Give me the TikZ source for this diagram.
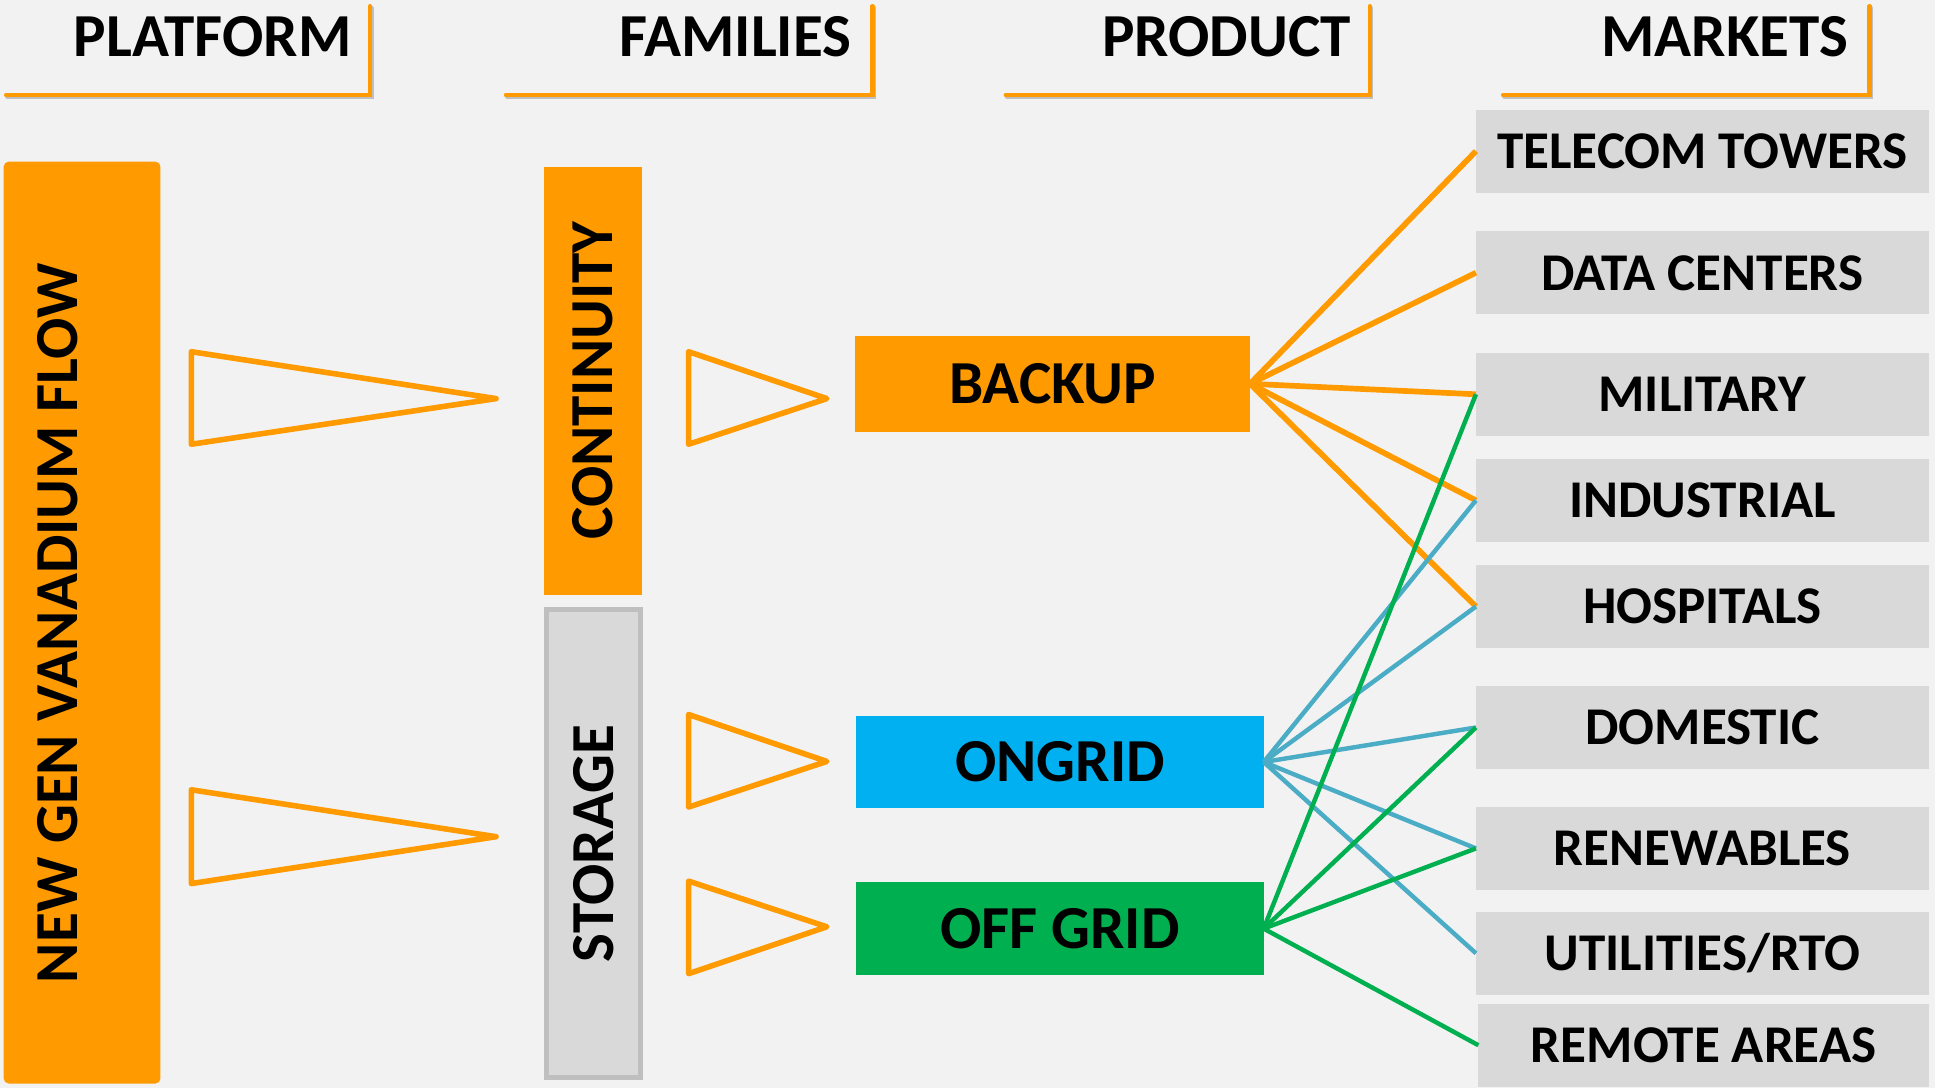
\documentclass[tikz,border=0pt]{standalone}
\usepackage{fontspec}
\setmainfont{Carlito}
\definecolor{orC}{HTML}{FF9A00}
\definecolor{blC}{HTML}{00B0F0}
\definecolor{gnC}{HTML}{00B050}
\definecolor{lbC}{HTML}{4BACC6}
\definecolor{grC}{HTML}{D9D9D9}
\definecolor{bdC}{HTML}{BFBFBF}
\definecolor{bgC}{HTML}{F2F2F2}
\begin{document}
\begin{tikzpicture}[x=1pt,y=-1pt,
  bigfont/.style={font=\fontsize{49.5}{49.5}\selectfont\bfseries},
  hdr/.style={bigfont, anchor=base east, inner sep=0pt},
  hline/.style={draw=orC, line width=3.5pt, line cap=round},
  hshadow/.style={draw=black!25, line width=3.5pt, line cap=round},
  boxst/.style={inner sep=0pt, outer sep=0pt, bigfont, text height=32pt, text depth=0pt},
  mkt/.style={boxst, fill=grC, minimum width=367pt, minimum height=67pt,
              font=\fontsize{43}{43}\selectfont\bfseries, text height=28pt},
  wedgest/.style={draw=orC, line width=4.5pt, line join=round},
  orline/.style={draw=orC, line width=4.6pt},
  blline/.style={draw=lbC, line width=3.6pt},
  gnline/.style={draw=gnC, line width=3.6pt}
]
% background
\fill[bgC] (0,0) rectangle (1568,882);
\useasboundingbox (0,0) rectangle (1568,882);

% headers
\foreach \l/\r in {5/300, 410/707, 815/1110, 1218/1515}{
  \draw[hshadow] (\l+1,78.5) -- (\r+1,78.5) -- (\r+1,6.5);
  \draw[hline] (\l,77) -- (\r,77) -- (\r,5);
}
\node[hdr] (hplat) at (285,46) {PLATFORM};
\node[hdr] (hfam) at (690,46) {FAMILIES};
\node[hdr] (hprod) at (1095,46) {PRODUCT};
\node[hdr] (hmkt) at (1498,46) {MARKETS};

% platform
\node[boxst, fill=orC, rounded corners=4pt, minimum width=127pt, minimum height=747pt] (plat) at (66.5,504.5) {};
\node[bigfont, rotate=90, inner sep=0pt, text height=32pt, text depth=0pt] (platlbl) at (47,505) {NEW GEN VANADIUM FLOW};

% wedges
\draw[wedgest] (155,285) -- (155,360) -- (402,323) -- cycle;
\draw[wedgest] (155,640) -- (155,716) -- (402,678) -- cycle;

% families
\node[boxst, fill=orC, minimum width=347pt, minimum height=79pt, rotate=90] (cont) at (480.5,308.5) {CONTINUITY};
\node[boxst, fill=grC, draw=bdC, line width=4pt, minimum width=379pt, minimum height=76pt, rotate=90] (stor) at (481,683.5) {STORAGE};

% small wedges
\draw[wedgest] (558,285) -- (558,360) -- (670,323) -- cycle;
\draw[wedgest] (558,579) -- (558,654) -- (670,617) -- cycle;
\draw[wedgest] (558,714) -- (558,789) -- (670,751) -- cycle;

% products
\node[boxst, fill=orC, minimum width=320pt, minimum height=78pt] (backup) at (853,311) {BACKUP};
\node[boxst, fill=blC, minimum width=330pt, minimum height=75pt] (ongrid) at (859,617.5) {ONGRID};
\node[boxst, fill=gnC, minimum width=330pt, minimum height=75pt] (offgrid) at (859,752.5) {OFF GRID};

% markets
\node[mkt] (tel) at (1379.5,122.5) {TELECOM TOWERS};
\node[mkt] (dat) at (1379.5,221) {DATA CENTERS};
\node[mkt] (mil) at (1379.5,319.5) {MILITARY};
\node[mkt] (ind) at (1379.5,405.5) {INDUSTRIAL};
\node[mkt] (hos) at (1379.5,491.5) {HOSPITALS};
\node[mkt] (dom) at (1379.5,589.5) {DOMESTIC};
\node[mkt] (ren) at (1379.5,687.5) {RENEWABLES};
\node[mkt] (uti) at (1379.5,772.5) {UTILITIES/RTO};
\node[mkt, minimum width=365pt] (rem) at (1380.5,847) {REMOTE AREAS};

% connectors
\foreach \m in {tel,dat,mil,ind,hos}{
  \draw[orline] (backup.east) -- (\m.west);
}
\foreach \m in {ind,hos,dom,ren,uti}{
  \draw[blline] (ongrid.east) -- (\m.west);
}
\foreach \m in {mil,dom,ren,rem}{
  \draw[gnline] (offgrid.east) -- (\m.west);
}
\end{tikzpicture}
\end{document}
